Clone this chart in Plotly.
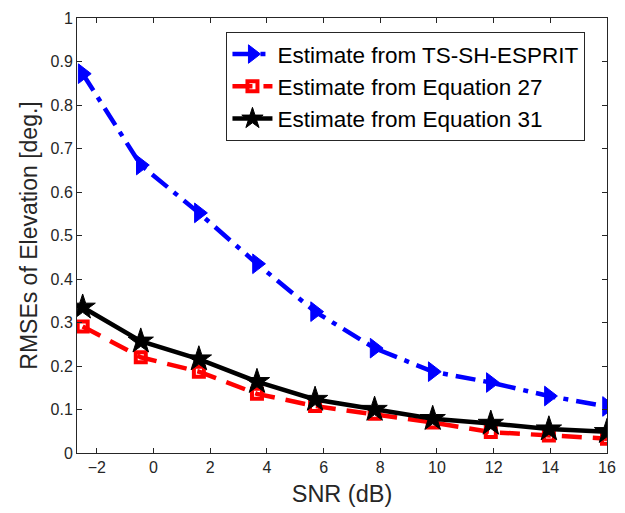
import plotly.graph_objects as go

snr = [-2.5, -0.45, 1.6, 3.65, 5.7, 7.8, 9.85, 11.9, 13.95, 16]
ts_sh_esprit = [0.872, 0.662, 0.552, 0.435, 0.325, 0.241, 0.187, 0.162, 0.131, 0.107]
eq27 = [0.291, 0.220, 0.187, 0.136, 0.108, 0.090, 0.070, 0.048, 0.040, 0.033]
eq31 = [0.335, 0.257, 0.216, 0.164, 0.123, 0.100, 0.079, 0.068, 0.055, 0.049]

names = ["Estimate from TS-SH-ESPRIT", "Estimate from Equation 27", "Estimate from Equation 31"]
xticks = [-2, 0, 2, 4, 6, 8, 10, 12, 14, 16]
yticks = [0, 0.1, 0.2, 0.3, 0.4, 0.5, 0.6, 0.7, 0.8, 0.9, 1]
ylabels = ["0", "0.1", "0.2", "0.3", "0.4", "0.5", "0.6", "0.7", "0.8", "0.9", "1"]

FONT = "Liberation Sans, Arial, sans-serif"

fig = go.Figure()
fig.add_trace(go.Scatter(x=snr, y=ts_sh_esprit, name=names[0], mode="lines+markers",
                         line=dict(color="#0000ff", width=4.5, dash="20px,8px,5px,8px"),
                         marker=dict(symbol="triangle-right", size=17, color="#0000ff",
                                     line=dict(color="#0000ff", width=1))))
fig.add_trace(go.Scatter(x=snr, y=eq27, name=names[1], mode="lines+markers",
                         line=dict(color="#ff0000", width=4.5, dash="20px,11px"),
                         marker=dict(symbol="square-open", size=10, color="#ff0000",
                                     line=dict(color="#ff0000", width=4))))
fig.add_trace(go.Scatter(x=snr, y=eq31, name=names[2], mode="lines+markers",
                         line=dict(color="#000000", width=4.5),
                         marker=dict(symbol="star", size=19, color="#000000",
                                     line=dict(color="#000000", width=1))))

axis_common = dict(showline=True, linecolor="#262626", linewidth=1, mirror="ticks",
                   ticks="inside", ticklen=5, tickcolor="#262626", showgrid=False,
                   zeroline=False, tickfont=dict(family=FONT, size=16, color="#262626"))

fig.update_xaxes(range=[-2.7, 16], tickvals=xticks,
                 title=dict(text="SNR (dB)", font=dict(family=FONT, size=23.5, color="#262626"), standoff=10),
                 **axis_common)
fig.update_yaxes(range=[0, 1], tickvals=yticks, ticktext=ylabels,
                 title=dict(text="RMSEs of Elevation [deg.]", font=dict(family=FONT, size=23, color="#262626"), standoff=6),
                 **axis_common)

fig.update_layout(
    width=625, height=513,
    margin=dict(l=77, r=9, t=18, b=60),
    plot_bgcolor="white", paper_bgcolor="white",
    showlegend=True,
    legend=dict(x=0.282, y=0.968, xanchor="left", yanchor="top",
                bgcolor="white", bordercolor="#262626", borderwidth=1,
                font=dict(family=FONT, size=22.5, color="#000000"),
                itemwidth=40, tracegroupgap=0),
)

fig.write_html("out.html")
